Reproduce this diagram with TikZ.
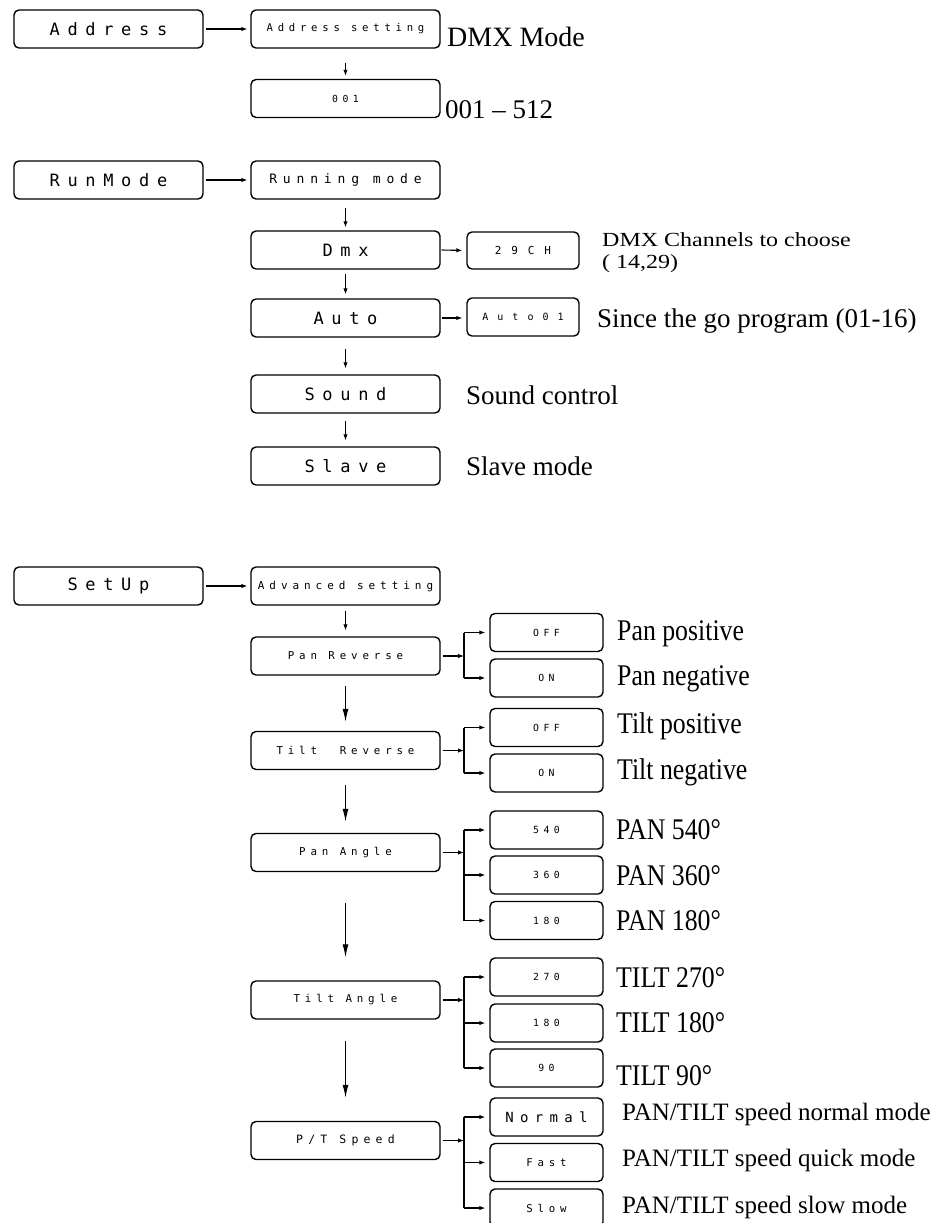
\documentclass[tikz,border=0pt]{standalone}
\usepackage{fontspec}
\setmainfont{Liberation Serif}
\newfontfamily\lcd[LetterSpace=45]{DejaVu Sans Mono}
\newfontfamily\lcdw[LetterSpace=90]{DejaVu Sans Mono}
\newfontfamily\tallserif[FakeStretch=0.86]{Liberation Serif}
\newfontfamily\wideserif[FakeStretch=1.2]{Liberation Serif}
\usetikzlibrary{arrows.meta}
\tikzset{
  box/.style={draw, line width=1.4pt, rounded corners=5pt, minimum width=189pt, minimum height=38pt, inner sep=0pt},
  opt/.style={box, minimum width=113pt},
  lcdL/.style={font=\lcd\fontsize{17}{17}\selectfont},
  lcdM/.style={font=\lcd\fontsize{13}{13}\selectfont},
  lcdS/.style={font=\lcd\fontsize{10.8}{11}\selectfont},
  lcdXS/.style={font=\lcd\fontsize{9.8}{10}\selectfont},
  arr/.style={line width=1.1pt, -{Latex[length=6pt,width=4.5pt]}},
  arrL/.style={line width=1.1pt, -{Latex[length=13pt,width=6pt]}},
  ln/.style={line width=1.1pt},
  big/.style={anchor=base west, inner sep=0pt, font=\fontsize{27}{30}\selectfont},
  tall/.style={anchor=base west, inner sep=0pt, font=\tallserif\fontsize{30}{32}\selectfont},
  mid/.style={anchor=base west, inner sep=0pt, font=\fontsize{25}{28}\selectfont},
  wide/.style={anchor=base west, inner sep=0pt, font=\wideserif\fontsize{20}{21}\selectfont}
}
\begin{document}
\begin{tikzpicture}[x=1pt, y=-1pt]
\useasboundingbox (0,0) rectangle (941,1223);
\fill[white] (0,0) rectangle (941,1223);

% ---------- Address ----------
\node[box, lcdL] (addr) at (108.5,29) {Address};
\node[box, font=\lcd\fontsize{10.6}{11}\selectfont] (as) at (345.5,29) {Address setting};
\node[box, lcdXS] (n001) at (345.5,98.5) {001};
\node[anchor=base west, inner sep=0pt, font=\fontsize{28}{30}\selectfont] (lDMX) at (447,47) {DMX Mode};
\node[big] (l001) at (445,118) {001 – 512};
\draw[arr, shorten <=2pt, shorten >=3pt] (addr) -- (as);
\draw[arr, shorten <=14pt, shorten >=3pt] (as.south) -- (n001.north);

% ---------- RunMode ----------
\node[box, lcdL] (rm) at (108.5,180) {RunMode};
\node[box, lcdM] (run) at (345.5,180) {Running mode};
\node[box, lcdL] (dmx) at (345.5,250) {Dmx};
\node[box, lcdL] (auto) at (345.5,318) {Auto};
\node[opt, minimum width=112pt, minimum height=37pt, font=\lcdw\fontsize{11}{11}\selectfont] (ch) at (523,250.5) {29CH};
\node[opt, minimum width=112pt, minimum height=38pt, font=\lcdw\fontsize{10}{10}\selectfont] (a01) at (523,317) {Auto01};
\node[box, lcdL] (snd) at (345.5,394) {Sound};
\node[box, lcdL] (slv) at (345.5,466) {Slave};
\node[wide] (dmxl1) at (602,246) {DMX Channels to choose};
\node[wide] (dmxl2) at (602,268) {( 14,29)};
\node[big] (lauto) at (597,327) {Since the go program (01-16)};
\node[big] (lsnd) at (466,404) {Sound control};
\node[big] (lslv) at (466,475) {Slave mode};
\draw[arr, shorten <=2pt, shorten >=3pt] (rm) -- (run);
\draw[arr, shorten <=8pt, shorten >=3pt] (run.south) -- (dmx.north);
\draw[arr, shorten <=4pt, shorten >=4pt] (dmx.south) -- (auto.north);
\draw[arr, shorten <=11pt, shorten >=6pt] (auto.south) -- (snd.north);
\draw[arr, shorten <=7pt, shorten >=6pt] (snd.south) -- (slv.north);
\draw[arr, shorten <=1pt, shorten >=4pt] (dmx.east) -- (ch.west);
\draw[arr, shorten <=1pt, shorten >=4pt] (auto.east) -- (auto.east -| a01.west);

% ---------- SetUp ----------
\node[box, lcdL] (su) at (108.5,586) {SetUp};
\node[box, font=\lcd\fontsize{11}{11}\selectfont] (adv) at (345.5,586) {Advanced setting};
\node[box, lcdS] (pr) at (345.5,656) {Pan Reverse};
\node[box, lcdS] (tr) at (345.5,750.5) {Tilt\ \ Reverse};
\node[box, lcdS] (pa) at (345.5,852.5) {Pan Angle};
\node[box, lcdS] (ta) at (345.5,1000) {Tilt Angle};
\node[box, font=\lcd\fontsize{11.5}{12}\selectfont] (pt) at (345.5,1140.5) {P/T Speed};

\node[opt, lcdXS] (prOff) at (546.5,632.5) {OFF};
\node[opt, lcdXS] (prOn) at (546.5,678) {ON};
\node[opt, lcdXS] (trOff) at (546.5,727.5) {OFF};
\node[opt, lcdXS] (trOn) at (546.5,773) {ON};
\node[opt, lcdXS] (p540) at (546.5,830) {540};
\node[opt, lcdXS] (p360) at (546.5,875) {360};
\node[opt, lcdXS] (p180) at (546.5,920.5) {180};
\node[opt, lcdXS] (t270) at (546.5,977) {270};
\node[opt, lcdXS] (t180) at (546.5,1023) {180};
\node[opt, lcdXS] (t90) at (546.5,1068) {90};
\node[opt, font=\lcd\fontsize{14}{14}\selectfont] (nor) at (546.5,1117) {Normal};
\node[opt, font=\lcd\fontsize{10.7}{11}\selectfont] (fast) at (546.5,1162.5) {Fast};
\node[opt, font=\lcd\fontsize{10.7}{11}\selectfont] (slow) at (546.5,1208) {Slow};

\node[tall] (lprOff) at (617,640) {Pan positive};
\node[tall] (lprOn) at (617,685) {Pan negative};
\node[tall] (ltrOff) at (617,733) {Tilt positive};
\node[tall] (ltrOn) at (617,779) {Tilt negative};
\node[tall] (l540) at (616,839) {PAN 540°};
\node[tall] (l360) at (616,885) {PAN 360°};
\node[tall] (l180) at (616,930) {PAN 180°};
\node[tall] (l270) at (616,987) {TILT 270°};
\node[tall] (lt180) at (616,1032) {TILT 180°};
\node[tall] (l90) at (616,1085) {TILT 90°};
\node[mid] (lnor) at (622,1120) {PAN/TILT speed normal mode};
\node[mid] (lfast) at (622,1166) {PAN/TILT speed quick mode};
\node[mid] (lslow) at (622,1213) {PAN/TILT speed slow mode};

\draw[arr, shorten <=2pt, shorten >=3pt] (su) -- (adv);
\draw[arr, shorten <=5pt, shorten >=6pt] (adv.south) -- (pr.north);
\draw[arrL, shorten <=10pt, shorten >=9pt] (pr.south) -- (tr.north);
\draw[arrL, shorten <=15pt, shorten >=11pt] (tr.south) -- (pa.north);
\draw[arrL, shorten <=31pt, shorten >=23pt] (pa.south) -- (ta.north);
\draw[arrL, shorten <=21pt, shorten >=23pt] (ta.south) -- (pt.north);

% branch bars
\coordinate (bx) at (464,0);
% Pan Reverse
\draw[arr, shorten <=2pt] (pr.east) -- (bx |- pr.east);
\draw[ln] (bx |- prOff.west) -- (bx |- prOn.west);
\draw[arr, shorten >=4pt] (bx |- prOff.west) -- (prOff.west);
\draw[arr, shorten >=4pt] (bx |- prOn.west) -- (prOn.west);
% Tilt Reverse
\draw[arr, shorten <=2pt] (tr.east) -- (bx |- tr.east);
\draw[ln] (bx |- trOff.west) -- (bx |- trOn.west);
\draw[arr, shorten >=4pt] (bx |- trOff.west) -- (trOff.west);
\draw[arr, shorten >=4pt] (bx |- trOn.west) -- (trOn.west);
% Pan Angle
\draw[arr, shorten <=2pt] (pa.east) -- (bx |- pa.east);
\draw[ln] (bx |- p540.west) -- (bx |- p180.west);
\draw[arr, shorten >=4pt] (bx |- p540.west) -- (p540.west);
\draw[arr, shorten >=4pt] (bx |- p360.west) -- (p360.west);
\draw[arr, shorten >=4pt] (bx |- p180.west) -- (p180.west);
% Tilt Angle
\draw[arr, shorten <=2pt] (ta.east) -- (bx |- ta.east);
\draw[ln] (bx |- t270.west) -- (bx |- t90.west);
\draw[arr, shorten >=4pt] (bx |- t270.west) -- (t270.west);
\draw[arr, shorten >=4pt] (bx |- t180.west) -- (t180.west);
\draw[arr, shorten >=4pt] (bx |- t90.west) -- (t90.west);
% P/T Speed
\draw[arr, shorten <=2pt] (pt.east) -- (bx |- pt.east);
\draw[ln] (bx |- nor.west) -- (bx |- slow.west);
\draw[arr, shorten >=4pt] (bx |- nor.west) -- (nor.west);
\draw[arr, shorten >=4pt] (bx |- fast.west) -- (fast.west);
\draw[arr, shorten >=4pt] (bx |- slow.west) -- (slow.west);
\end{tikzpicture}
\end{document}
